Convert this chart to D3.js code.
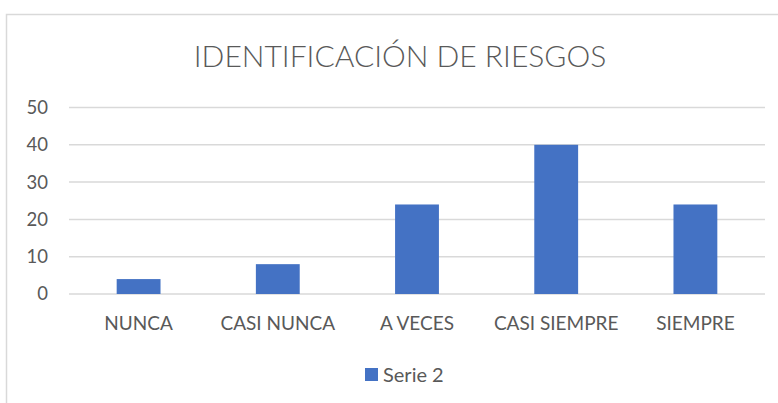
<!DOCTYPE html>
<html lang="es">
<head>
  <meta charset="UTF-8">
  <title>Identificación de riesgos</title>
  <script src="https://d3js.org/d3.v7.min.js"></script>
  <style>
    body { margin: 0; background: #fff; font-family: Lato, "Open Sans", sans-serif; }
    svg text { fill: #595959; }
  </style>
</head>
<body>
  <div id="chart"></div>
  <script>
    const categories = ['NUNCA', 'CASI NUNCA', 'A VECES', 'CASI SIEMPRE', 'SIEMPRE'];
    const values = [4, 8, 24, 40, 24];
    const yTicks = [0, 10, 20, 30, 40, 50];
    const seriesName = 'Serie 2';

    const W = 778, H = 403;
    const m = { left: 69, right: 13, top: 107.5, bottom: 109 };

    const svg = d3.select('#chart').append('svg')
      .attr('width', W).attr('height', H);

    // chart frame (top and left edges visible in the crop)
    svg.append('path')
      .attr('d', `M6.5,${H} V14.5 H${W}`)
      .attr('fill', 'none').attr('stroke', '#d9d9d9').attr('stroke-width', 1.5);

    svg.append('text')
      .attr('x', 400).attr('y', 67)
      .attr('text-anchor', 'middle')
      .attr('font-size', 30)
      .attr('font-weight', 300)
      .text('IDENTIFICACIÓN DE RIESGOS');

    const x = d3.scaleBand().domain(categories)
      .range([m.left, W - m.right]).paddingInner(0.685).paddingOuter(0.3425);
    const y = d3.scaleLinear().domain([0, 50]).range([H - m.bottom, m.top]);

    // gridlines
    svg.append('g').selectAll('line').data(yTicks).join('line')
      .attr('x1', m.left).attr('x2', W - m.right)
      .attr('y1', d => y(d)).attr('y2', d => y(d))
      .attr('stroke', '#d9d9d9').attr('stroke-width', 1.5);

    // y axis labels
    const yAxis = svg.append('g')
      .attr('transform', `translate(${m.left - 21},0)`)
      .call(d3.axisLeft(y).tickValues(yTicks).tickSize(0).tickPadding(0));
    yAxis.select('.domain').remove();
    yAxis.selectAll('text').attr('font-size', 18.5).attr('font-family', 'Lato, sans-serif').attr('fill', '#595959');

    // bars
    svg.append('g').selectAll('rect').data(values).join('rect')
      .attr('x', (d, i) => x(categories[i]))
      .attr('width', x.bandwidth())
      .attr('y', d => y(d))
      .attr('height', d => y(0) - y(d))
      .attr('fill', '#4472c4');

    // x axis labels
    const xAxis = svg.append('g')
      .attr('transform', `translate(0,${y(0)})`)
      .call(d3.axisBottom(x).tickSize(0).tickPadding(23));
    xAxis.select('.domain').remove();
    xAxis.selectAll('text').attr('font-size', 19).attr('font-family', 'Lato, sans-serif').attr('fill', '#595959');

    // legend
    const lg = svg.append('g').attr('transform', 'translate(365,368)');
    lg.append('rect').attr('width', 13).attr('height', 13).attr('fill', '#4472c4');
    lg.append('text').attr('x', 18).attr('y', 13.5)
      .attr('font-size', 20).text(seriesName);
  </script>
</body>
</html>
